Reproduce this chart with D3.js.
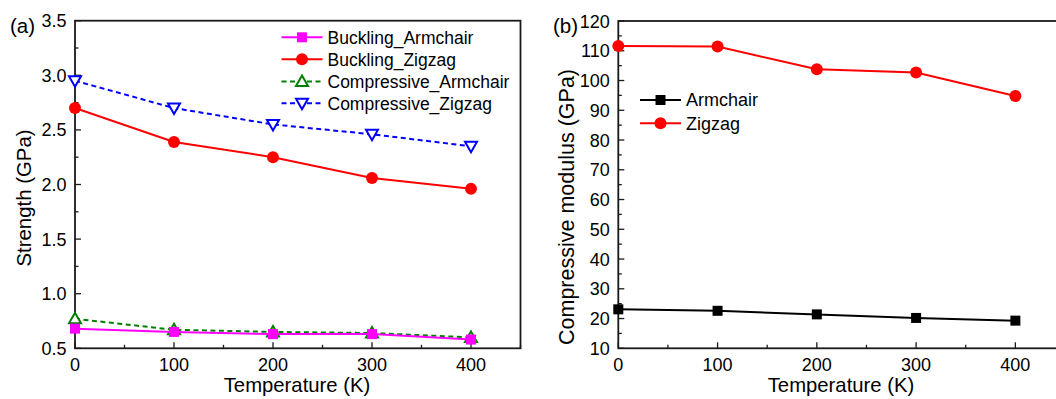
<!DOCTYPE html>
<html>
<head>
<meta charset="utf-8">
<script src="https://cdn.jsdelivr.net/npm/d3@7"></script>
<style>
  body { margin: 0; background: #fff; }
  text { font-family: "Liberation Sans", Arial, sans-serif; fill: #000; }
</style>
</head>
<body>
<div id="chart"></div>
<script>
// data
var temps = [0, 100, 200, 300, 400];
var bucklingArmchair = [0.68, 0.65, 0.63, 0.63, 0.58];
var bucklingZigzag = [2.70, 2.39, 2.25, 2.06, 1.96];
var compArmchair = [0.77, 0.67, 0.65, 0.64, 0.60];
var compZigzag = [2.95, 2.70, 2.55, 2.46, 2.35];
var modArmchair = [23.1, 22.6, 21.4, 20.2, 19.3];
var modZigzag = [111.6, 111.4, 103.8, 102.7, 94.8];

var xTicks = [0, 100, 200, 300, 400];
var strengthTicks = [0.5, 1.0, 1.5, 2.0, 2.5, 3.0, 3.5];
var modTicks = [10, 20, 30, 40, 50, 60, 70, 80, 90, 100, 110, 120];

var svg = d3.select("#chart").append("svg")
  .attr("width", 1056)
  .attr("height", 399);

var axisColor = "#1a1a1a";

function drawFrame(x, y, xt, yt, yFmt, yMinor) {
  var g = svg.append("g");
  var x0 = x.range()[0], x1 = x.range()[1];
  var y0 = y.range()[0], y1 = y.range()[1];

  // box
  g.append("rect")
    .attr("x", x0).attr("y", y1)
    .attr("width", x1 - x0).attr("height", y0 - y1)
    .attr("fill", "none")
    .attr("stroke", axisColor)
    .attr("stroke-width", 1.8);

  // x ticks (inward)
  var xAll = d3.range(0, 451, 50);
  g.selectAll(".xt").data(xAll).enter().append("line")
    .attr("x1", d => x(d)).attr("x2", d => x(d))
    .attr("y1", y0).attr("y2", d => y0 - (d % 100 === 0 ? 6 : 3.5))
    .attr("stroke", axisColor).attr("stroke-width", 1.3);
  g.selectAll(".xl").data(xt).enter().append("text")
    .attr("x", d => x(d)).attr("y", y0 + 22.5)
    .attr("text-anchor", "middle")
    .style("font-size", "18px")
    .text(d => d);

  // y ticks
  g.selectAll(".ym").data(yMinor).enter().append("line")
    .attr("x1", x0).attr("x2", x0 + 3.5)
    .attr("y1", d => y(d)).attr("y2", d => y(d))
    .attr("stroke", axisColor).attr("stroke-width", 1.3);
  g.selectAll(".yt").data(yt).enter().append("line")
    .attr("x1", x0).attr("x2", x0 + 6)
    .attr("y1", d => y(d)).attr("y2", d => y(d))
    .attr("stroke", axisColor).attr("stroke-width", 1.3);
  g.selectAll(".yl").data(yt).enter().append("text")
    .attr("x", x0 - 8.5).attr("y", d => y(d) + 6.5)
    .attr("text-anchor", "end")
    .style("font-size", "18px")
    .text(yFmt);
}

function drawSeries(x, y, vals, color, dash, marker) {
  var line = d3.line().x((d, i) => x(temps[i])).y(d => y(d));
  svg.append("path")
    .datum(vals)
    .attr("d", line)
    .attr("fill", "none")
    .attr("stroke", color)
    .attr("stroke-width", 2)
    .attr("stroke-dasharray", dash ? "5,3.5" : null);
  vals.forEach(function(v, i) {
    drawMarker(x(temps[i]), y(v), color, marker);
  });
}

function drawMarker(cx, cy, color, marker) {
  if (marker === "square") {
    svg.append("rect")
      .attr("x", cx - 5).attr("y", cy - 5)
      .attr("width", 10).attr("height", 10)
      .attr("fill", color);
  } else if (marker === "circle") {
    svg.append("circle")
      .attr("cx", cx).attr("cy", cy).attr("r", 6)
      .attr("fill", color);
  } else if (marker === "up") {
    svg.append("path")
      .attr("d", `M${cx},${cy - 6}L${cx + 6},${cy + 4.5}L${cx - 6},${cy + 4.5}Z`)
      .attr("fill", "#fff").attr("stroke", color).attr("stroke-width", 2);
  } else if (marker === "down") {
    svg.append("path")
      .attr("d", `M${cx},${cy + 6}L${cx + 6},${cy - 4.5}L${cx - 6},${cy - 4.5}Z`)
      .attr("fill", "#fff").attr("stroke", color).attr("stroke-width", 2);
  }
}

function legendRow(x, y, label, color, dash, marker, fs) {
  svg.append("line")
    .attr("x1", x).attr("x2", x + 41)
    .attr("y1", y).attr("y2", y)
    .attr("stroke", color).attr("stroke-width", 2)
    .attr("stroke-dasharray", dash ? "5,3.5" : null);
  drawMarker(x + 20.5, y, color, marker);
  svg.append("text")
    .attr("x", x + 46).attr("y", y + 6.3)
    .style("font-size", fs + "px")
    .text(label);
}

// ---------- panel (a) ----------
var xA = d3.scaleLinear().domain([0, 450]).range([75, 520.5]);
var yA = d3.scaleLinear().domain([0.5, 3.5]).range([348.3, 20.7]);

drawFrame(xA, yA, xTicks, strengthTicks, d => d.toFixed(1), d3.range(0.75, 3.5, 0.5));

drawSeries(xA, yA, compArmchair, "#008000", true, "up");
drawSeries(xA, yA, bucklingArmchair, "#ff00ff", false, "square");
drawSeries(xA, yA, compZigzag, "#0000ff", true, "down");
drawSeries(xA, yA, bucklingZigzag, "#ff0000", false, "circle");

legendRow(281.5, 37.3, "Buckling_Armchair", "#ff00ff", false, "square", 17.5);
legendRow(281.5, 59.3, "Buckling_Zigzag", "#ff0000", false, "circle", 17.5);
legendRow(281.5, 81.5, "Compressive_Armchair", "#008000", true, "up", 17.5);
legendRow(281.5, 103.3, "Compressive_Zigzag", "#0000ff", true, "down", 17.5);

svg.append("text")
  .attr("x", 10).attr("y", 33)
  .style("font-size", "20.5px")
  .text("(a)");

svg.append("text")
  .attr("x", 297).attr("y", 392)
  .attr("text-anchor", "middle")
  .style("font-size", "20.3px")
  .text("Temperature (K)");

svg.append("text")
  .attr("transform", "translate(31,198) rotate(-90)")
  .attr("text-anchor", "middle")
  .style("font-size", "20.4px")
  .text("Strength (GPa)");

// ---------- panel (b) ----------
var xB = d3.scaleLinear().domain([0, 450]).range([618.3, 1065]);
var yB = d3.scaleLinear().domain([10, 120]).range([348.3, 21]);

drawFrame(xB, yB, xTicks, modTicks, d => d, d3.range(15, 120, 10));

drawSeries(xB, yB, modArmchair, "#000000", false, "square");
drawSeries(xB, yB, modZigzag, "#ff0000", false, "circle");

legendRow(640, 100, "Armchair", "#000000", false, "square", 18);
legendRow(640, 123.3, "Zigzag", "#ff0000", false, "circle", 18);

svg.append("text")
  .attr("x", 553).attr("y", 33)
  .style("font-size", "20.5px")
  .text("(b)");

svg.append("text")
  .attr("x", 841).attr("y", 392)
  .attr("text-anchor", "middle")
  .style("font-size", "20.3px")
  .text("Temperature (K)");

svg.append("text")
  .attr("transform", "translate(573.5,207) rotate(-90)")
  .attr("text-anchor", "middle")
  .style("font-size", "21.5px")
  .text("Compressive modulus (GPa)");
</script>
</body>
</html>
